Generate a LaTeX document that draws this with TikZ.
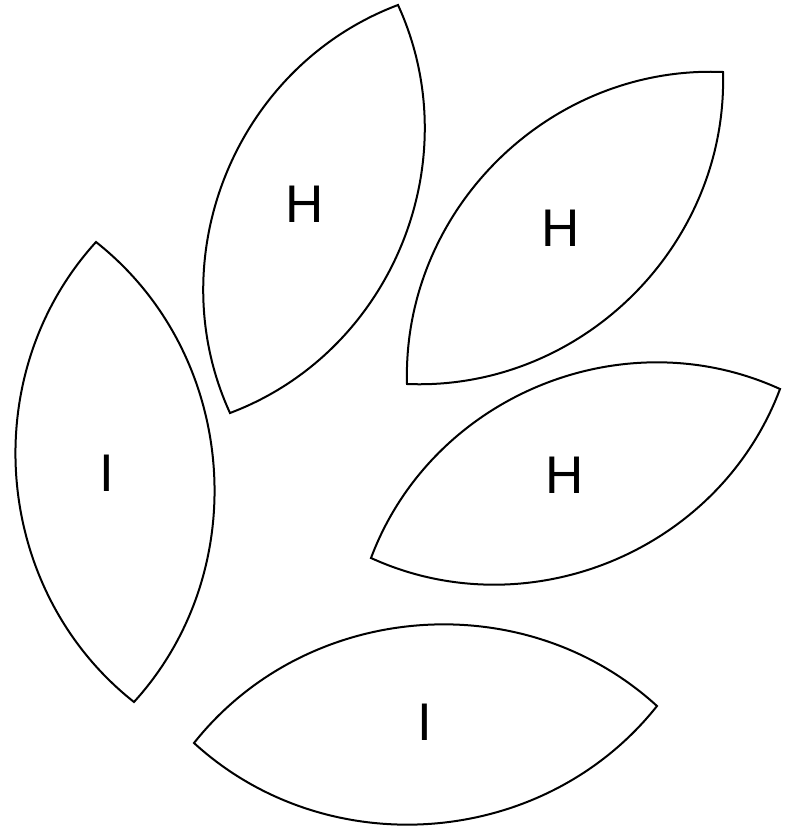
\documentclass[tikz,border=0pt]{standalone}
\usepackage{fontspec}
\setmainfont{Liberation Sans}
\begin{document}
\begin{tikzpicture}[x=1pt,y=-1pt,
  leaf/.style={draw=black,line width=2pt,line join=miter,fill=white},
  lbl/.style={font=\fontsize{53}{60}\selectfont,inner sep=0pt,anchor=center}]
\useasboundingbox (0,0) rectangle (792,828);
% tips
\coordinate (a1) at (96,242);  \coordinate (a2) at (134,702);
\coordinate (b1) at (398,5);   \coordinate (b2) at (230,413);
\coordinate (c1) at (723,72);  \coordinate (c2) at (407,384);
\coordinate (d1) at (780,389); \coordinate (d2) at (371,558);
\coordinate (e1) at (657,706); \coordinate (e2) at (194,743);
\draw[leaf] (a1) to[bend left=47] (a2) to[bend left=47] (a1) -- cycle;
\draw[leaf] (b1) to[bend left=47] (b2) to[bend left=47] (b1) -- cycle;
\draw[leaf] (c1) to[bend left=47] (c2) to[bend left=47] (c1) -- cycle;
\draw[leaf] (d1) to[bend left=47] (d2) to[bend left=47] (d1) -- cycle;
\draw[leaf] (e1) to[bend left=47] (e2) to[bend left=47] (e1) -- cycle;
\node[lbl] (t1) at (107,473) {I};
\node[lbl] (t2) at (305,204) {H};
\node[lbl] (t3) at (561,228) {H};
\node[lbl] (t4) at (565,475) {H};
\node[lbl] (t5) at (425,722) {I};
\end{tikzpicture}
\end{document}
